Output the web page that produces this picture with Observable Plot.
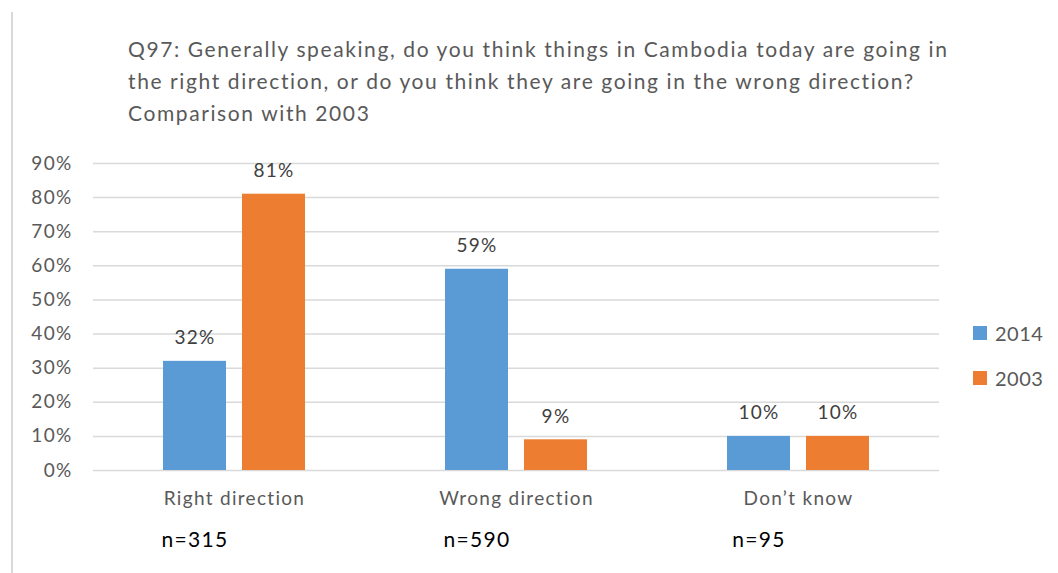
<!DOCTYPE html>
<html>
<head>
<meta charset="utf-8">
<script src="https://cdn.jsdelivr.net/npm/d3@7"></script>
<script src="https://cdn.jsdelivr.net/npm/@observablehq/plot@0.6"></script>
<style>
  html, body { margin: 0; padding: 0; background: #fff; }
  #wrap { position: relative; width: 1058px; height: 573px; overflow: hidden; font-family: Lato, "Open Sans", sans-serif; }
  #vline { position: absolute; left: 11px; top: 12px; width: 2px; height: 561px; background: #d9d9d9; }
  #title { position: absolute; left: 128px; top: 33px; font-size: 21px; line-height: 32px; color: #595959; white-space: nowrap; letter-spacing: 1.6px; }
  #chart { position: absolute; left: 0; top: 0; }
  #legend { position: absolute; left: 973px; top: 320px; font-size: 20px; color: #595959; letter-spacing: 0.5px; }
  #legend .item { display: flex; align-items: center; height: 26px; margin-bottom: 19px; }
  #legend .sw { width: 14px; height: 14px; margin-right: 8px; }
</style>
</head>
<body>
<div id="wrap">
  <div id="vline"></div>
  <div id="title"></div>
  <div id="chart"></div>
  <div id="legend"></div>
</div>
<script>
const titleLines = [
  "Q97: Generally speaking, do you think things in Cambodia today are going in",
  "the right direction, or do you think they are going in the  wrong direction?",
  "Comparison with 2003"
];
const categories = ["Right direction", "Wrong direction", "Don’t know"];
const years = ["2014", "2003"];
const values2014 = [0.32, 0.59, 0.10];
const values2003 = [0.81, 0.09, 0.10];
const sampleSizes = ["n=315", "n=590", "n=95"];
const yTicks = [0, 0.1, 0.2, 0.3, 0.4, 0.5, 0.6, 0.7, 0.8, 0.9];
const colors = ["#5B9BD5", "#ED7D31"];

const data = categories.flatMap((c, i) => [
  {category: c, year: years[0], value: values2014[i]},
  {category: c, year: years[1], value: values2003[i]}
]);
const nData = categories.map((c, i) => ({category: c, n: sampleSizes[i]}));
const pct = d3.format(".0%");

document.getElementById("title").innerHTML = titleLines.map(l => `<div>${l}</div>`).join("");
document.getElementById("legend").innerHTML = years.map((y, i) =>
  `<div class="item"><div class="sw" style="background:${colors[i]}"></div><span>${y}</span></div>`).join("");

const chart = Plot.plot({
  width: 1058,
  height: 573,
  marginLeft: 92,
  marginRight: 118,
  marginTop: 163,
  marginBottom: 103,
  style: {fontFamily: "Lato, 'Open Sans', sans-serif", fontSize: "19px", color: "#595959", background: "transparent", overflow: "visible", letterSpacing: "1.3px"},
  fx: {domain: categories, padding: 0, label: null},
  x: {domain: years, paddingInner: 0.2, paddingOuter: 0.8625, axis: null},
  y: {domain: [0, 0.9], label: null, axis: null},
  color: {domain: years, range: colors},
  marks: [
    Plot.gridY(yTicks, {stroke: "#d9d9d9", strokeOpacity: 1, strokeWidth: 1.5}),
    Plot.axisY(yTicks, {tickFormat: pct, tickSize: 0, tickPadding: 21, label: null, fontSize: 19}),
    Plot.axisFx({anchor: "bottom", tickSize: 0, tickPadding: 21, label: null, fontSize: 19}),
    Plot.barY(data, {fx: "category", x: "year", y: "value", fill: "year"}),
    Plot.text(data, {fx: "category", x: "year", y: "value", text: d => pct(d.value), dy: -23, fill: "#404040", fontSize: 19}),
    Plot.text(nData, {fx: "category", x: () => years[0], text: "n", frameAnchor: "bottom", dy: 76, fill: "#000", fontSize: 21})
  ]
});
document.getElementById("chart").appendChild(chart);
</script>
</body>
</html>
